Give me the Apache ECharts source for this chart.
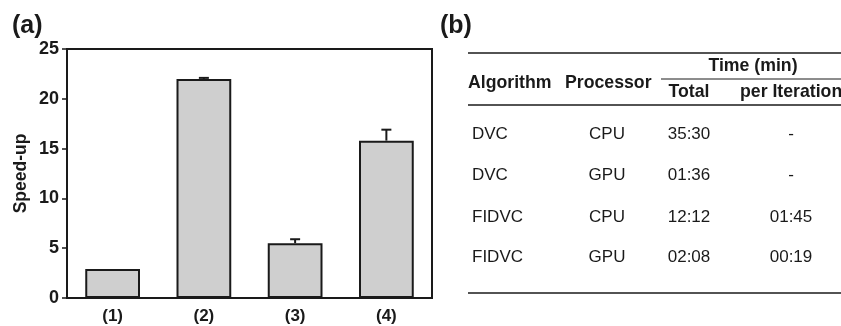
<!DOCTYPE html>
<html>
<head>
<meta charset="utf-8">
<script src="https://cdn.jsdelivr.net/npm/echarts@6/dist/echarts.min.js"></script>
<style>
  html, body { margin: 0; padding: 0; background: #fff; }
</style>
</head>
<body>
<div id="chart" style="width: 841px; height: 326px;"></div>
<script>
// panel (a) data
var categories = ['(1)', '(2)', '(3)', '(4)'];
var speedup = [2.9, 22.0, 5.5, 15.8];
var errorTop = [2.9, 22.1, 5.9, 16.9];
var yTicks = [0, 5, 10, 15, 20, 25];

// panel (b) table
var tableAlgorithm = ['DVC', 'DVC', 'FIDVC', 'FIDVC'];
var tableProcessor = ['CPU', 'GPU', 'CPU', 'GPU'];
var tableTotal = ['35:30', '01:36', '12:12', '02:08'];
var tablePerIter = ['-', '-', '01:45', '00:19'];

var FONT = '"Liberation Sans", Arial, Helvetica, sans-serif';
var INK = '#1a1a1a';

var myChart = echarts.init(document.getElementById('chart'));

// table graphics
var g = [];
function txt(x, y, s, bold, align) {
  g.push({
    type: 'text', x: x, y: y, silent: true,
    style: {
      text: s, fill: INK, font: (bold ? 'bold 17.7px ' : '17px ') + FONT,
      textAlign: align || 'left', textVerticalAlign: 'middle'
    }
  });
}
function hline(x1, x2, y, w) {
  g.push({
    type: 'line', silent: true,
    shape: { x1: x1, y1: y, x2: x2, y2: y },
    style: { stroke: INK, lineWidth: w }
  });
}
g.push({
  type: 'text', x: 12, y: 26, silent: true,
  style: { text: '(a)', fill: INK, font: 'bold 25px ' + FONT, textVerticalAlign: 'middle' }
});
g.push({
  type: 'text', x: 440, y: 26, silent: true,
  style: { text: '(b)', fill: INK, font: 'bold 25px ' + FONT, textVerticalAlign: 'middle' }
});
hline(468, 841, 53, 1.5);
hline(661, 841, 79, 1);
hline(468, 841, 105, 1.5);
hline(468, 841, 293, 1.5);
txt(753, 66, 'Time (min)', true, 'center');
txt(468, 83, 'Algorithm', true);
txt(565, 83, 'Processor', true);
txt(689, 92, 'Total', true, 'center');
txt(740, 92, 'per Iteration', true);
var rowY = [134, 175, 217, 257];
for (var i = 0; i < rowY.length; i++) {
  txt(472, rowY[i], tableAlgorithm[i], false);
  txt(607, rowY[i], tableProcessor[i], false, 'center');
  txt(689, rowY[i], tableTotal[i], false, 'center');
  txt(791, rowY[i], tablePerIter[i], false, 'center');
}

var option = {
  animation: false,
  grid: {
    left: 67, top: 49, width: 365, height: 249,
    show: true, borderColor: INK, borderWidth: 2, backgroundColor: 'transparent'
  },
  xAxis: {
    type: 'category',
    data: categories,
    axisLine: { lineStyle: { color: INK, width: 2 } },
    axisTick: { alignWithLabel: true, length: 5, lineStyle: { color: INK, width: 1.5 } },
    axisLabel: { color: INK, fontWeight: 'bold', fontSize: 17, fontFamily: FONT, margin: 10 }
  },
  yAxis: {
    type: 'value',
    min: yTicks[0], max: yTicks[yTicks.length - 1], interval: 5,
    name: 'Speed-up',
    nameLocation: 'middle',
    nameGap: 37,
    nameTextStyle: { color: INK, fontWeight: 'bold', fontSize: 17.5, fontFamily: FONT },
    splitLine: { show: false },
    axisLine: { show: true, lineStyle: { color: INK, width: 2 } },
    axisTick: { show: true, length: 5, lineStyle: { color: INK, width: 1.5 } },
    axisLabel: { color: INK, fontWeight: 'bold', fontSize: 18, fontFamily: FONT, margin: 8 }
  },
  series: [
    {
      type: 'bar',
      data: speedup,
      barWidth: '60%',
      itemStyle: { color: '#cfcfcf', borderColor: INK, borderWidth: 2 }
    },
    {
      type: 'custom',
      data: errorTop.map(function (v, i) { return [i, speedup[i], v]; }),
      renderItem: function (params, api) {
        var low = api.coord([api.value(0), api.value(1)]);
        var high = api.coord([api.value(0), api.value(2)]);
        if (high[1] >= low[1] - 0.5) return null;
        return {
          type: 'group',
          children: [
            { type: 'line', shape: { x1: low[0], y1: low[1], x2: high[0], y2: high[1] },
              style: { stroke: INK, lineWidth: 2 } },
            { type: 'line', shape: { x1: high[0] - 5, y1: high[1], x2: high[0] + 5, y2: high[1] },
              style: { stroke: INK, lineWidth: 2 } }
          ]
        };
      },
      z: 3
    }
  ],
  graphic: g
};
myChart.setOption(option);
</script>
</body>
</html>
